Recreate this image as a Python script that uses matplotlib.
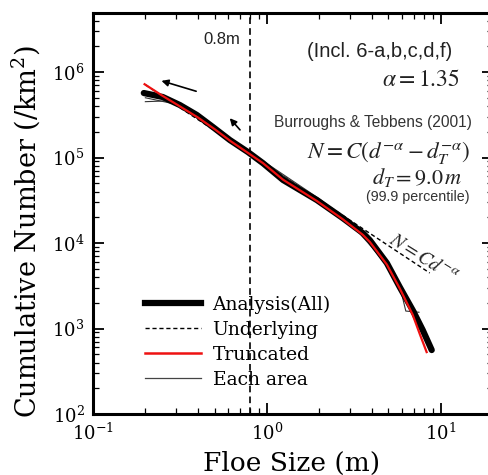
import matplotlib
matplotlib.use("Agg")
import matplotlib.pyplot as plt

plt.rcParams['font.family'] = ['DejaVu Serif']
plt.rcParams['mathtext.fontset'] = 'dejavuserif'

# ---- data ----
analysis_x = [0.196, 0.252, 0.316, 0.396, 0.49, 0.613, 0.778, 0.949, 1.24, 1.94,
              2.73, 3.56, 3.91, 4.9, 5.81, 6.9, 7.88, 8.88]
analysis_y = [5.68e5, 5.1e5, 4.11e5, 3.14e5, 2.27e5, 1.6e5, 1.16e5, 8.6e4, 5.46e4, 3.18e4,
              1.96e4, 1.31e4, 1.08e4, 5.83e3, 3.06e3, 1.64e3, 9.6e2, 5.6e2]

truncated_x = [0.198, 0.25, 0.32, 0.4, 0.5, 0.62, 0.78, 0.95, 1.24, 1.94,
               2.73, 3.56, 3.91, 4.9, 5.81, 6.9, 7.6, 8.3]
truncated_y = [7.2e5, 5.3e5, 3.9e5, 2.95e5, 2.15e5, 1.55e5, 1.13e5, 8.6e4, 5.5e4, 3.1e4,
               1.9e4, 1.25e4, 1.03e4, 5.6e3, 2.95e3, 1.45e3, 8.5e2, 5.3e2]

underlying_x = [0.2, 8.65]
underlying_y = [7.1e5, 4.46e3]

area1_x = [0.2, 0.27, 0.35, 0.5, 0.8, 1.2, 2.0, 3.0, 4.0, 4.6, 4.7, 5.5, 6.5, 7.2]
area1_y = [4.5e5, 4.6e5, 3.7e5, 2.2e5, 1.12e5, 5.7e4, 3.05e4, 1.7e4, 9.5e3, 6.5e3, 7.0e3, 3.5e3, 1.9e3, 1.6e3]
area2_x = [0.2, 0.3, 0.5, 1.0, 2.0, 3.5, 4.5, 5.8, 6.3, 7.5]
area2_y = [5.0e5, 4.2e5, 2.3e5, 8.2e4, 3.2e4, 1.35e4, 7.5e3, 3.2e3, 1.6e3, 1.55e3]
area3_x = [0.2, 0.3, 0.6, 1.0, 2.0, 3.0, 4.0, 5.0]
area3_y = [5.4e5, 4.5e5, 1.7e5, 8.5e4, 3.3e4, 1.75e4, 9.0e3, 5.2e3]

cutoff_x = 0.8

legend_labels = ['Analysis(All)', 'Underlying', 'Truncated', 'Each area']

RED = '#ee1111'

# ---- figure ----
fig = plt.figure(figsize=(4.88, 4.75), dpi=100)
ax = fig.add_axes([0.1906, 0.1284, 0.8197, 0.8442])
ax.set_xscale('log')
ax.set_yscale('log')
ax.set_xlim(0.1, 20)
ax.set_ylim(1e2, 4.9e6)

for ax_x, ax_y in [(area1_x, area1_y), (area2_x, area2_y), (area3_x, area3_y)]:
    ax.plot(ax_x, ax_y, color='#333333', lw=0.8, zorder=3)
ax.plot(underlying_x, underlying_y, color='black', lw=1.0, ls=(0, (3, 2)), zorder=2)
ax.plot(analysis_x, analysis_y, color='black', lw=4.5, solid_capstyle='round', zorder=4)
ax.plot(truncated_x, truncated_y, color=RED, lw=1.6, zorder=5)

ax.axvline(cutoff_x, color='black', lw=1.2, ls=(0, (4, 2.5)), zorder=1)

# legend handles
h1, = ax.plot([], [], color='black', lw=4.5)
h2, = ax.plot([], [], color='black', lw=1.0, ls=(0, (3, 2)))
h3, = ax.plot([], [], color=RED, lw=1.8)
h4, = ax.plot([], [], color='#444444', lw=0.9)
leg = ax.legend([h1, h2, h3, h4], legend_labels, loc='upper left',
                bbox_to_anchor=(0.13, 0.296), frameon=False, fontsize=13.5,
                handlelength=3.0, handletextpad=0.6, labelspacing=0.38,
                borderpad=0, borderaxespad=0)

# annotations
ax.annotate('', xy=(0.239, 8.06e5), xytext=(0.406, 5.83e5),
            arrowprops=dict(arrowstyle='-|>', color='black', lw=1.2, mutation_scale=10))
ax.annotate('', xy=(0.597, 3.05e5), xytext=(0.718, 1.99e5),
            arrowprops=dict(arrowstyle='-|>', color='black', lw=1.2, mutation_scale=10))

sans = ['Liberation Sans', 'DejaVu Sans']
ax.text(0.3675, 0.933, '0.8m', transform=ax.transAxes, ha='right', va='center',
        fontsize=12, family=sans, color='#222222')
ax.text(0.7175, 0.903, '(Incl. 6-a,b,c,d,f)', transform=ax.transAxes, ha='center', va='center',
        fontsize=14.5, family=sans, color='#222222')
ax.text(0.9175, 0.833, r'$\alpha = 1.35$', transform=ax.transAxes, ha='right', va='center',
        fontsize=17, color='#222222', math_fontfamily='stix')
ax.text(0.70, 0.728, 'Burroughs & Tebbens (2001)', transform=ax.transAxes, ha='center', va='center',
        fontsize=11.2, family=sans, color='#333333')
ax.text(0.9425, 0.653, r'$N = C(d^{-\alpha} - d_T^{-\alpha})$', transform=ax.transAxes,
        ha='right', va='center', fontsize=16.7, color='#222222', math_fontfamily='stix')
ax.text(0.925, 0.589, r'$d_T = 9.0\,m$', transform=ax.transAxes, ha='right', va='center',
        fontsize=16, color='#222222', math_fontfamily='stix')
ax.text(0.8125, 0.541, '(99.9 percentile)', transform=ax.transAxes, ha='center', va='center',
        fontsize=10.3, family=sans, color='#333333')
ax.text(0.825, 0.389, r'$N = Cd^{-\alpha}$', transform=ax.transAxes, ha='center', va='center',
        fontsize=14, rotation=-32, color='#222222', math_fontfamily='stix')

# axes styling
for s in ax.spines.values():
    s.set_linewidth(2.2)
ax.tick_params(which='both', direction='in', top=True, right=True, width=1.3)
ax.tick_params(which='major', length=8, labelsize=13, pad=6)
ax.tick_params(which='minor', length=4, width=0.9)

ax.set_xlabel('Floe Size (m)', fontsize=19, va='center')
ax.xaxis.set_label_coords(0.496, -0.122)
ax.set_ylabel('Cumulative Number (/km$^2$)', fontsize=19.5, va='center')
ax.yaxis.set_label_coords(-0.17, 0.456)

fig.savefig('out.png', dpi=100)
